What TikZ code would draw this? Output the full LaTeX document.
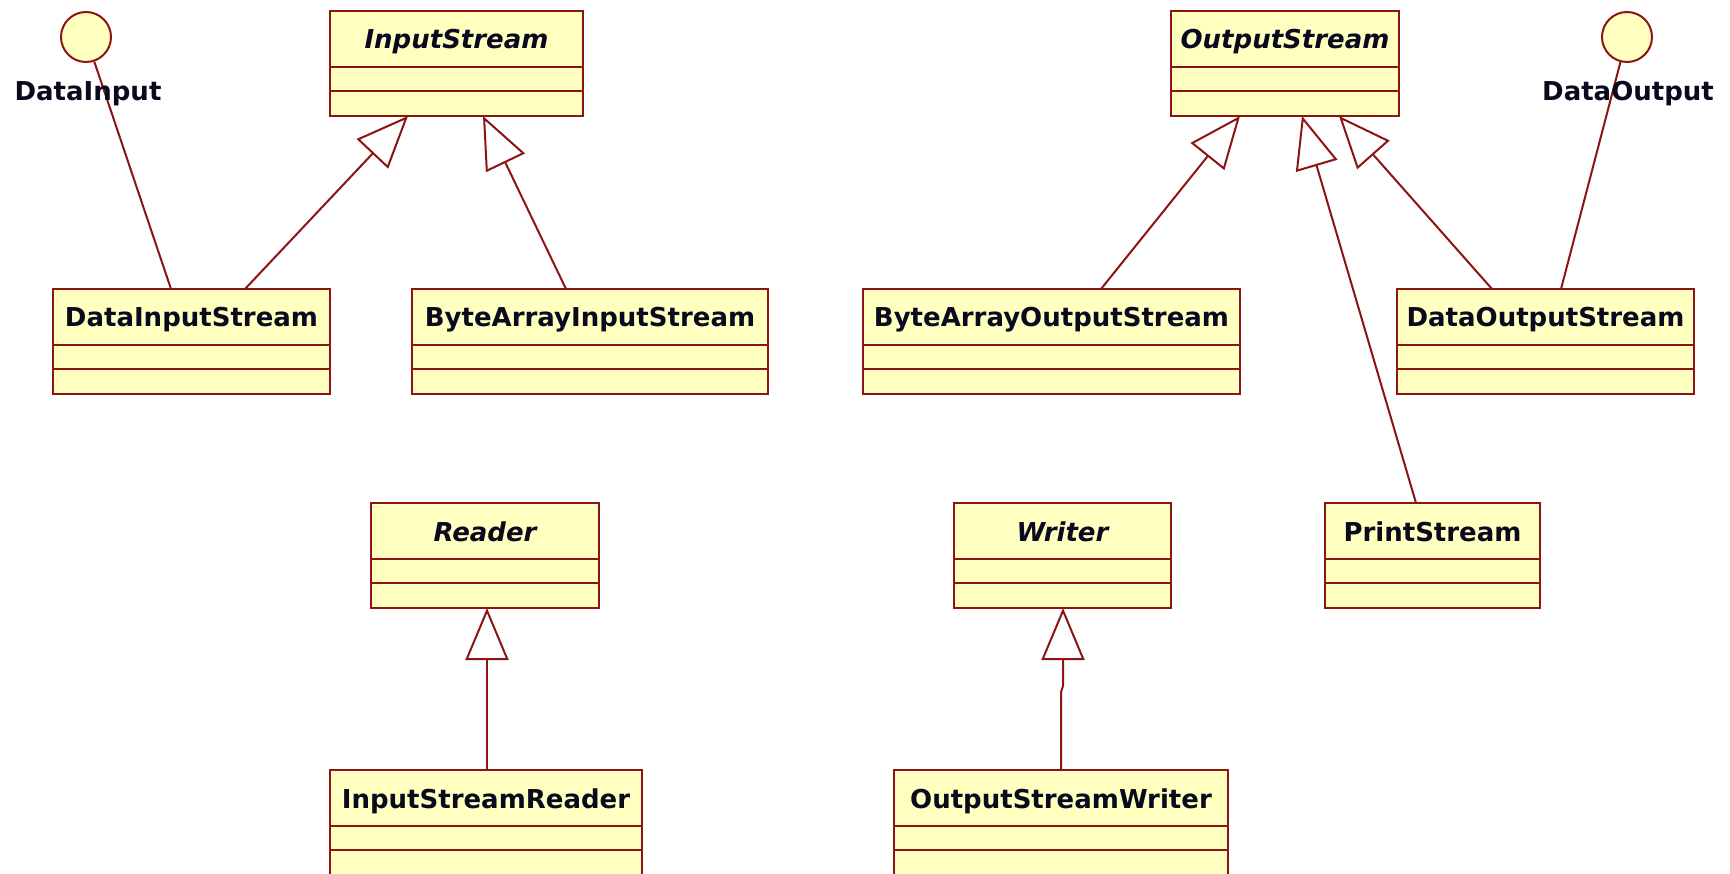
\documentclass[tikz,border=0pt]{standalone}
\usepackage{fontspec}
\setmainfont{DejaVu Sans}
\usetikzlibrary{arrows.meta}

\definecolor{umlborder}{RGB}{140,20,20}
\definecolor{umlfill}{RGB}{255,255,192}
\definecolor{umltext}{RGB}{10,10,30}

\tikzset{
  classbox/.style={draw=umlborder, fill=umlfill, line width=2.5pt, rectangle,
    minimum height=105pt, inner sep=0pt, outer sep=0pt},
  classname/.style={font=\bfseries\fontsize{26}{30}\selectfont, text=umltext,
    inner sep=0pt, anchor=base},
  classrule/.style={draw=umlborder, line width=2.5pt},
  iface/.style={circle, draw=umlborder, fill=umlfill, line width=2pt,
    minimum size=50pt, inner sep=0pt},
  ifacename/.style={font=\bfseries\fontsize{26}{30}\selectfont, text=umltext,
    inner sep=0pt, anchor=base},
  realizes/.style={draw=umlborder, line width=2pt},
  inherits/.style={draw=umlborder, line width=2pt,
    -{Triangle[length=52pt, width=43pt, fill=white]}},
}

% #1 node name, #2 left x, #3 top y, #4 right x, #5 title
\newcommand{\umlclass}[5]{%
  \node[classbox, minimum width={(#4-#2)*1pt}, anchor=north west] (#1) at (#2,#3) {};
  \node[classname] (#1-name) at ([yshift=-38pt]#1.north) {#5};
  \draw[classrule] ([yshift=-56pt]#1.north west) -- ([yshift=-56pt]#1.north east);
  \draw[classrule] ([yshift=-80pt]#1.north west) -- ([yshift=-80pt]#1.north east);
}

\begin{document}
\begin{tikzpicture}[x=1pt, y=-1pt]
  \useasboundingbox (0,0) rectangle (1730,874);
  \fill[white] (0,0) rectangle (1730,874);

  % byte streams
  \umlclass{is}{330}{11}{583}{\itshape InputStream}
  \umlclass{os}{1171}{11}{1399}{\itshape OutputStream}
  \umlclass{dis}{53}{289}{330}{DataInputStream}
  \umlclass{bais}{412}{289}{768}{ByteArrayInputStream}
  \umlclass{baos}{863}{289}{1240}{ByteArrayOutputStream}
  \umlclass{dos}{1397}{289}{1694}{DataOutputStream}
  \umlclass{ps}{1325}{503}{1540}{PrintStream}

  % character streams
  \umlclass{rd}{371}{503}{599}{\itshape Reader}
  \umlclass{wr}{954}{503}{1171}{\itshape Writer}
  \umlclass{isr}{330}{770}{642}{InputStreamReader}
  \umlclass{osw}{894}{770}{1228}{OutputStreamWriter}

  % interfaces (lollipop notation)
  \node[iface] (din) at (86,37) {};
  \node[iface] (dout) at (1627,37) {};

  % realization lines, drawn under the interface names
  \draw[realizes] (din) -- ([xshift=118pt]dis.north west);
  \draw[realizes] (dout) -- ([xshift=164pt]dos.north west);

  \node[ifacename] (din-name) at (88,101) {DataInput};
  \node[ifacename] (dout-name) at (1628,101) {DataOutput};

  % generalizations
  \draw[inherits] ([xshift=192pt]dis.north west) -- ([xshift=78pt]is.south west);
  \draw[inherits] ([xshift=154pt]bais.north west) -- ([xshift=153pt]is.south west);
  \draw[inherits] ([xshift=238pt]baos.north west) -- ([xshift=69pt]os.south west);
  \draw[inherits] ([xshift=91pt]ps.north west) -- ([xshift=131pt]os.south west);
  \draw[inherits] ([xshift=95pt]dos.north west) -- ([xshift=168pt]os.south west);
  \draw[inherits] ([xshift=157pt]isr.north west) -- ([xshift=116pt]rd.south west);
  \draw[inherits] ([xshift=167pt]osw.north west) -- ++(0,-78) -- ++(2,-6)
    -- ([xshift=109pt]wr.south west);
\end{tikzpicture}
\end{document}
